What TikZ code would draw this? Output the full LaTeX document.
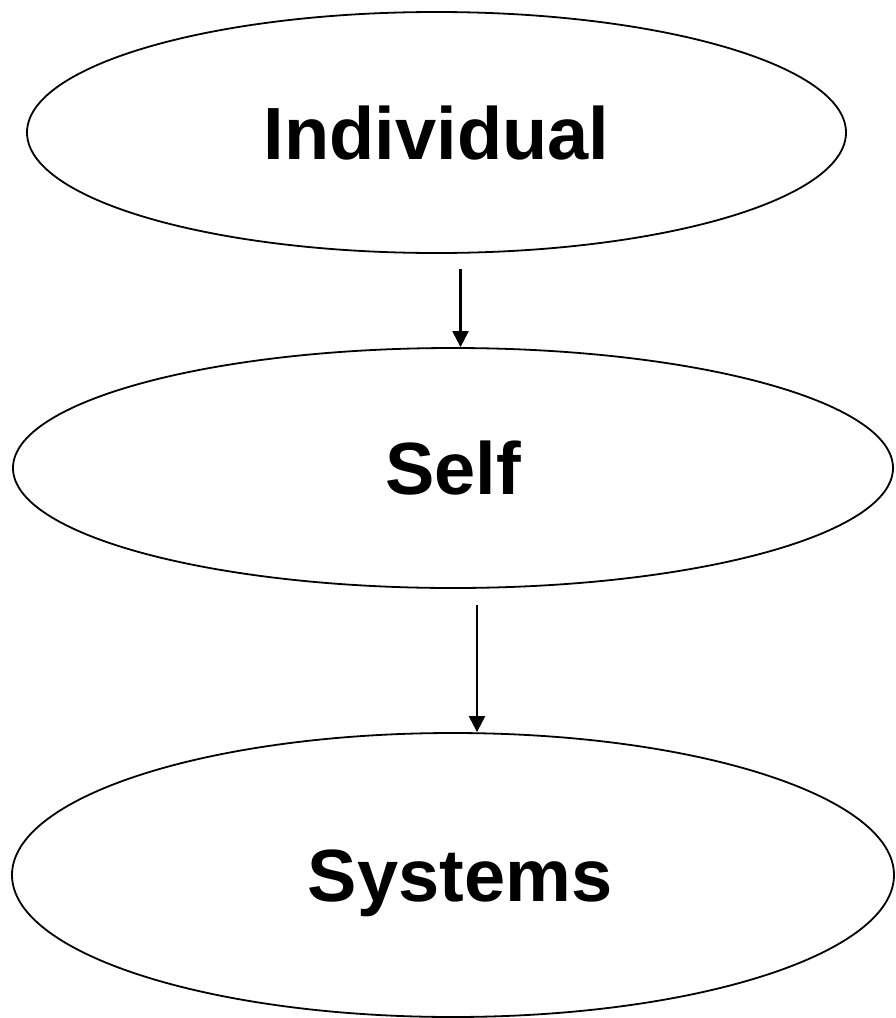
\documentclass[tikz,border=0pt]{standalone}
\usepackage{fontspec}
\setmainfont{Liberation Sans}
\usetikzlibrary{shapes.geometric,arrows.meta}
\tikzset{
  oval/.style={draw=black, line width=1.8pt, ellipse, inner sep=0pt,
    font=\fontsize{74}{80}\selectfont\bfseries, text height=53pt, text depth=0pt},
  conn/.style={line width=2.2pt, -{Triangle[width=16pt,length=16pt]}}
}
\begin{document}
\begin{tikzpicture}[x=1pt,y=-1pt]
\useasboundingbox[fill=white] (0,0) rectangle (896,1018);
\node[oval, minimum width=819pt, minimum height=241pt] (ind) at (436.5,132.5) {Individual\hspace{12pt}};
\node[oval, minimum width=880pt, minimum height=240pt] (self) at (453,468) {Self};
\node[oval, minimum width=882pt, minimum height=284pt] (sys) at (453,875) {\hspace{14pt}Systems};
\coordinate (a1) at (460.5,269);
\coordinate (a2) at (477,605);
\draw[conn] (a1) -- (a1 |- self.north);
\draw[conn] (a2) -- (a2 |- sys.north);
\end{tikzpicture}
\end{document}
